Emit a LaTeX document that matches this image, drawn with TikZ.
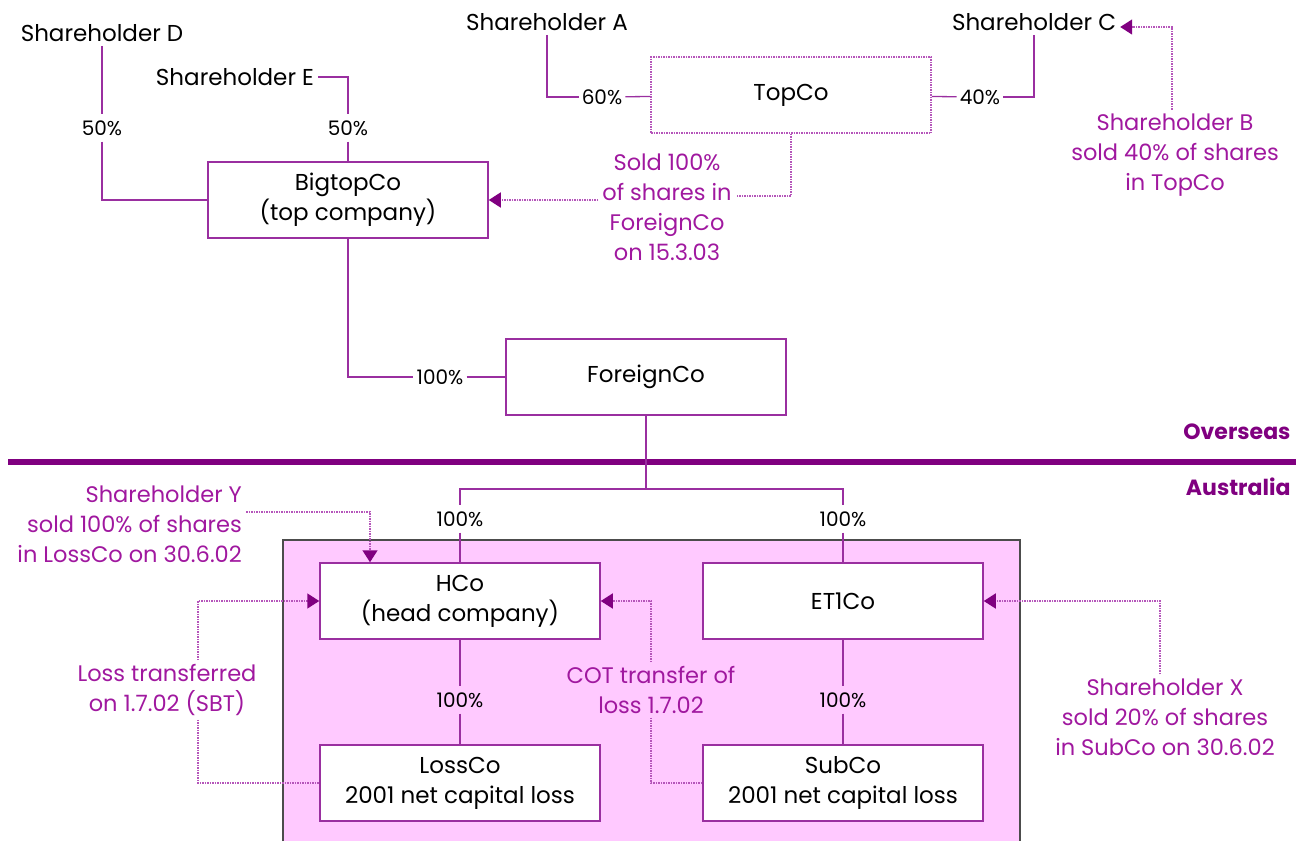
\documentclass[tikz,border=0pt]{standalone}
\usepackage{fontspec}
\setsansfont{Poppins}
\usetikzlibrary{arrows.meta}

\definecolor{plum}{HTML}{9A2FA0}
\definecolor{deepplum}{HTML}{800080}
\definecolor{notepurple}{HTML}{A0189F}
\definecolor{dotpink}{HTML}{B555BA}
\definecolor{ausfill}{HTML}{FFC9FF}

\begin{document}
\begin{tikzpicture}[x = 1pt, y = -1pt, font=\sffamily]
	\tikzstyle{firmStyle}=[draw = plum, line width = 1.5pt, fill = white, minimum width = 280pt, minimum height = 76pt, align = center, font = \sffamily\fontsize{23}{30}\selectfont]
	\tikzstyle{holderStyle}=[inner sep = 4pt, font = \sffamily\fontsize{23}{30}\selectfont]
	\tikzstyle{pctStyle}=[inner xsep = 3pt, inner ysep = 6pt, font = \sffamily\fontsize{20}{22}\selectfont]
	\tikzstyle{noteStyle}=[text = notepurple, align = center, inner sep = 4pt, font = \sffamily\fontsize{22.5}{30}\selectfont]
	\tikzstyle{regionStyle}=[text = deepplum, anchor = east, font = \sffamily\bfseries\fontsize{22}{26}\selectfont]
	\tikzstyle{linkStyle}=[draw = plum, line width = 1.3pt]
	\tikzstyle{hintStyle}=[draw = dotpink, line width = 1.5pt, densely dotted]
	\tikzstyle{tipStyle}=[hintStyle, -{Triangle[length = 12pt, width = 15pt, color = deepplum]}]
	\useasboundingbox (0,0) rectangle (1305,841);
	% australian group
	\fill[ausfill] (283,540) rectangle (1020,841);
	\draw[draw = black!70, line width = 1.5pt] (283,841) |- (1020,540) -- (1020,841);
	\draw[draw = deepplum, line width = 6pt] (8,462) -- (1296,462);
	\node[regionStyle] (overseas) at (1294,432) {Overseas};
	\node[regionStyle] (australia) at (1294,487) {Australia};
	% companies
	\node[firmStyle] (bigtop) at (348,200) {BigtopCo\\(top company)};
	\node[firmStyle, draw = dotpink, densely dotted] (topco) at (791,95) {TopCo};
	\node[firmStyle] (foreign) at (646,377) {ForeignCo};
	\node[firmStyle] (hco) at (460,601) {HCo\\(head company)};
	\node[firmStyle] (et1) at (843,601) {ET1Co};
	\node[firmStyle] (loss) at (460,783) {LossCo\\2001 net capital loss};
	\node[firmStyle] (sub) at (843,783) {SubCo\\2001 net capital loss};
	% shareholders
	\node[holderStyle] (shD) at (102,33) {Shareholder D};
	\node[holderStyle] (shE) at (235,77) {Shareholder E};
	\node[holderStyle] (shA) at (547,22) {Shareholder A};
	\node[holderStyle] (shC) at (1034,22) {Shareholder C};
	% percentages
	\node[pctStyle] (pD) at (102,128) {50\%};
	\node[pctStyle] (pE) at (348,128) {50\%};
	\node[pctStyle] (pA) at (602,97) {60\%};
	\node[pctStyle] (pC) at (980,97) {40\%};
	\node[pctStyle] (pF) at (440,377) {100\%};
	\node[pctStyle] (pH) at (460,519) {100\%};
	\node[pctStyle] (pT) at (843,519) {100\%};
	\node[pctStyle] (pL) at (460,700) {100\%};
	\node[pctStyle] (pS) at (843,700) {100\%};
	% notes
	\node[noteStyle] (noteB) at (1175,155) {Shareholder B\\sold 40\% of shares\\in TopCo};
	\node[noteStyle] (noteSold) at (667,207) {Sold 100\%\\of shares in\\ForeignCo\\on 15.3.03};
	\node[noteStyle, align = right, anchor = east] (noteY) at (246,524) {Shareholder Y\\sold 100\% of shares\\in LossCo on 30.6.02};
	\node[noteStyle] (noteLoss) at (167,690) {Loss transferred\\on 1.7.02 (SBT)};
	\node[noteStyle] (noteCOT) at (651,690) {COT transfer of\\loss 1.7.02};
	\node[noteStyle] (noteX) at (1165,717) {Shareholder X\\sold 20\% of shares\\in SubCo on 30.6.02};
	\coordinate (split) at (646,489);
	% ownership
	\draw[linkStyle] (shD) -- (pD);
	\draw[linkStyle] (pD) |- (bigtop);
	\draw[linkStyle] (shE) -| (pE);
	\draw[linkStyle] (pE) -- (bigtop);
	\draw[linkStyle] (shA) |- (pA);
	\draw[linkStyle] (pA) -- (topco);
	\draw[linkStyle] (shC) |- (pC);
	\draw[linkStyle] (pC) -- (topco);
	\draw[linkStyle] (bigtop) |- (pF);
	\draw[linkStyle] (pF) -- (foreign);
	\draw[linkStyle] (foreign) -- (split);
	\draw[linkStyle] (split) -| (pH);
	\draw[linkStyle] (split) -| (pT);
	\draw[linkStyle] (pH) -- (hco);
	\draw[linkStyle] (pT) -- (et1);
	\draw[linkStyle] (hco) -- (pL);
	\draw[linkStyle] (pL) -- (loss);
	\draw[linkStyle] (et1) -- (pS);
	\draw[linkStyle] (pS) -- (sub);
	% sales and transfers
	\draw[tipStyle] ([xshift = -3pt]noteB.north) |- ([yshift = -5pt]shC.east);
	\draw[hintStyle] (topco) |- ([yshift = 11pt]noteSold.east);
	\draw[tipStyle] (noteSold.west |- bigtop.east) -- (bigtop);
	\draw[tipStyle] ([yshift = 12pt]noteY.east) -| ([xshift = -90pt]hco.north);
	\draw[tipStyle] ([xshift = 31pt]noteLoss.north) |- (hco);
	\draw[hintStyle] ([xshift = 31pt]noteLoss.south) |- (loss);
	\draw[tipStyle] (noteCOT.north) |- (hco);
	\draw[hintStyle] (noteCOT.south) |- (sub);
	\draw[tipStyle] ([xshift = -5pt]noteX.north) |- (et1);
\end{tikzpicture}
\end{document}
